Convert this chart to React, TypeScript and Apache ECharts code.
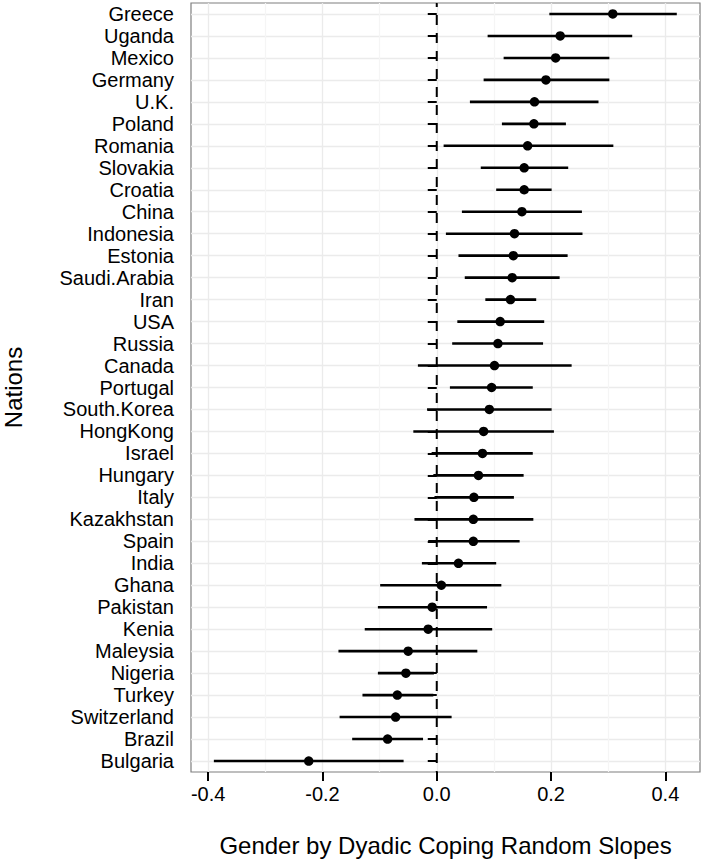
import React, { useEffect, useRef } from "react";
import * as echarts from "echarts";

const nations = [
  "Greece", "Uganda", "Mexico", "Germany", "U.K.", "Poland", "Romania", "Slovakia", "Croatia",
  "China", "Indonesia", "Estonia", "Saudi.Arabia", "Iran", "USA", "Russia", "Canada", "Portugal",
  "South.Korea", "HongKong", "Israel", "Hungary", "Italy", "Kazakhstan", "Spain", "India", "Ghana",
  "Pakistan", "Kenia", "Maleysia", "Nigeria", "Turkey", "Switzerland", "Brazil", "Bulgaria",
];

const estimates = [
  0.308, 0.216, 0.208, 0.191, 0.171, 0.170, 0.159, 0.153, 0.153,
  0.149, 0.136, 0.134, 0.132, 0.129, 0.111, 0.107, 0.101, 0.096,
  0.092, 0.082, 0.080, 0.073, 0.065, 0.064, 0.064, 0.038, 0.008,
  -0.008, -0.015, -0.050, -0.054, -0.069, -0.072, -0.086, -0.224,
];

const lower = [
  0.197, 0.089, 0.117, 0.082, 0.058, 0.114, 0.012, 0.077, 0.104,
  0.044, 0.016, 0.038, 0.049, 0.085, 0.036, 0.027, -0.033, 0.023,
  -0.017, -0.041, -0.009, -0.006, -0.004, -0.039, -0.015, -0.026, -0.099,
  -0.103, -0.126, -0.172, -0.103, -0.130, -0.170, -0.148, -0.390,
];

const upper = [
  0.420, 0.342, 0.302, 0.302, 0.283, 0.226, 0.309, 0.230, 0.201,
  0.254, 0.255, 0.229, 0.215, 0.174, 0.188, 0.186, 0.236, 0.168,
  0.201, 0.205, 0.168, 0.152, 0.135, 0.169, 0.145, 0.104, 0.113,
  0.088, 0.097, 0.071, -0.005, -0.006, 0.026, -0.024, -0.058,
];

const referenceValue = 0;
const xMajorTicks = [-0.4, -0.2, 0, 0.2, 0.4];
const xMinorTicks = [-0.3, -0.1, 0.1, 0.3];
const xMin = -0.43;
const xMax = 0.4606;

const xTitle = "Gender by Dyadic Coping Random Slopes";
const yTitle = "Nations";

const FONT = "Liberation Sans, Arial, Helvetica, sans-serif";

export default function App() {
  const ref = useRef<HTMLDivElement>(null);

  useEffect(() => {
    if (!ref.current) return;
    const chart = echarts.init(ref.current, undefined, { renderer: "svg" });

    const barData = lower.map((l, i) => [l, i, upper[i]]);
    const pointData = estimates.map((v, i) => [v, i]);

    const option: any = {
      animation: false,
      backgroundColor: "#ffffff",
      grid: {
        left: 191,
        right: 8,
        top: 3,
        bottom: 91,
        show: true,
        borderColor: "#7f7f7f",
        borderWidth: 1.2,
        backgroundColor: "#ffffff",
        containLabel: false,
        outerBoundsMode: "none",
      },
      xAxis: [
        {
          type: "value",
          min: xMin,
          max: xMax,
          position: "bottom",
          axisLine: { show: false },
          axisTick: {
            show: true,
            customValues: xMajorTicks,
            length: 9,
            lineStyle: { color: "#000", width: 2 },
          },
          axisLabel: {
            customValues: xMajorTicks,
            formatter: (v: number) => v.toFixed(1),
            fontSize: 20,
            color: "#000",
            fontFamily: FONT,
            margin: 12,
          },
          splitLine: { show: true, lineStyle: { color: "#ebebeb", width: 1.3 } },
          name: xTitle,
          nameLocation: "middle",
          nameGap: 61,
          nameTextStyle: { fontSize: 24, color: "#000", fontFamily: FONT },
        },
        {
          type: "value",
          min: xMin,
          max: xMax,
          position: "top",
          axisLine: { show: false },
          axisTick: { show: false, customValues: xMinorTicks },
          axisLabel: { show: false, customValues: xMinorTicks },
          splitLine: { show: true, lineStyle: { color: "#f5f5f5", width: 1.2 } },
        },
      ],
      yAxis: {
        type: "category",
        inverse: true,
        data: nations,
        boundaryGap: true,
        axisLine: { show: false },
        axisTick: {
          show: true,
          alignWithLabel: true,
          length: 9,
          lineStyle: { color: "#000", width: 2 },
        },
        axisLabel: {
          fontSize: 20,
          color: "#000",
          fontFamily: FONT,
          margin: 17,
          interval: 0,
        },
        splitLine: {
          show: true,
          alignWithLabel: true,
          lineStyle: { color: "#ebebeb", width: 1.3 },
        },
        name: yTitle,
        nameLocation: "middle",
        nameRotate: 90,
        nameGap: 166,
        nameTextStyle: { fontSize: 24, color: "#000", fontFamily: FONT },
      },
      series: [
        {
          type: "custom",
          xAxisIndex: 0,
          data: [[referenceValue, 0]],
          renderItem: (params: any, api: any) => {
            const p = api.coord([api.value(0), api.value(1)]);
            const cs = params.coordSys;
            return {
              type: "line",
              shape: { x1: p[0], y1: cs.y, x2: p[0], y2: cs.y + cs.height },
              style: { stroke: "#000", lineWidth: 2, lineDash: [10, 8], lineDashOffset: 6 },
            };
          },
          z: 1,
        },
        {
          type: "custom",
          xAxisIndex: 0,
          data: barData,
          renderItem: (params: any, api: any) => {
            const y = api.value(1);
            const p1 = api.coord([api.value(0), y]);
            const p2 = api.coord([api.value(2), y]);
            return {
              type: "line",
              shape: { x1: p1[0], y1: p1[1], x2: p2[0], y2: p2[1] },
              style: { stroke: "#000", lineWidth: 2.6 },
            };
          },
          z: 2,
        },
        {
          type: "scatter",
          xAxisIndex: 0,
          data: pointData,
          symbol: "circle",
          symbolSize: 9.5,
          itemStyle: { color: "#000", opacity: 1 },
          z: 3,
        },
      ],
    };

    chart.setOption(option);
    return () => chart.dispose();
  }, []);

  return (
    <div
      ref={ref}
      style={{ position: "absolute", left: 0, top: 0, width: 708, height: 863 }}
    />
  );
}
